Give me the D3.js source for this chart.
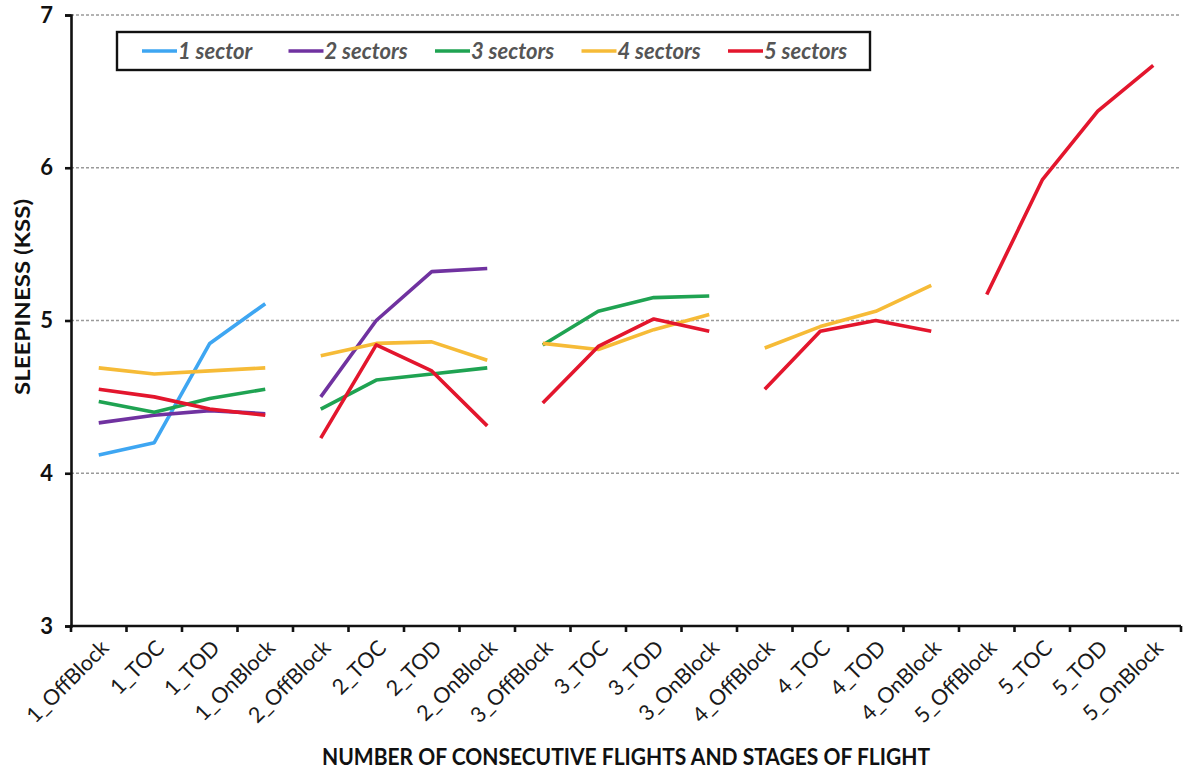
<!DOCTYPE html>
<html>
<head>
<meta charset="utf-8">
<script src="https://cdn.jsdelivr.net/npm/d3@7"></script>
<style>
  body { margin: 0; background: #fff; }
  svg { display: block; }
</style>
</head>
<body>
<div id="chart"></div>
<script>
// categories on the x axis: flight number x stage
const flights = ["1", "2", "3", "4", "5"];
const stages = ["OffBlock", "TOC", "TOD", "OnBlock"];
const categories = flights.flatMap(f => stages.map(s => f + "_" + s));

const seriesNames = ["1 sector", "2 sectors", "3 sectors", "4 sectors", "5 sectors"];
const seriesColors = ["#3ea6f2", "#7032a0", "#1fa352", "#f6bb37", "#e3162d"];

// KSS values, null where a crew did not fly that sector
const oneSector    = [4.12, 4.20, 4.85, 5.11, null, null, null, null, null, null, null, null, null, null, null, null, null, null, null, null];
const twoSectors   = [4.33, 4.38, 4.41, 4.39, 4.50, 5.00, 5.32, 5.34, null, null, null, null, null, null, null, null, null, null, null, null];
const threeSectors = [4.47, 4.40, 4.49, 4.55, 4.42, 4.61, 4.65, 4.69, 4.84, 5.06, 5.15, 5.16, null, null, null, null, null, null, null, null];
const fourSectors  = [4.69, 4.65, 4.67, 4.69, 4.77, 4.85, 4.86, 4.74, 4.85, 4.81, 4.94, 5.04, 4.82, 4.96, 5.06, 5.23, null, null, null, null];
const fiveSectors  = [4.55, 4.50, 4.42, 4.38, 4.23, 4.84, 4.67, 4.31, 4.46, 4.83, 5.01, 4.93, 4.55, 4.93, 5.00, 4.93, 5.17, 5.92, 6.37, 6.67];

const yTicks = [3, 4, 5, 6, 7];

const seriesValues = [oneSector, twoSectors, threeSectors, fourSectors, fiveSectors];

const width = 1187, height = 772;
const plot = {left: 71, right: 1181, top: 15, bottom: 626};
const font = "Lato, 'Open Sans', sans-serif";

const svg = d3.select("#chart").append("svg")
    .attr("width", width)
    .attr("height", height);

const x = d3.scaleBand()
    .domain(categories)
    .range([plot.left, plot.right]);

const y = d3.scaleLinear()
    .domain([3, 7])
    .range([plot.bottom, plot.top]);

// gridlines
svg.append("g")
    .selectAll("line")
    .data(yTicks.filter(t => t > 3))
    .join("line")
    .attr("x1", plot.left)
    .attr("x2", plot.right)
    .attr("y1", d => y(d))
    .attr("y2", d => y(d))
    .attr("stroke", "#9a9a9a")
    .attr("stroke-width", 1.3)
    .attr("stroke-dasharray", "3,2");

// lines, one path per flight so the groups stay apart
const line = d3.line()
    .x(d => x(d.cat) + x.bandwidth() / 2)
    .y(d => y(d.v));

seriesValues.forEach((vals, si) => {
    flights.forEach((f, fi) => {
        const pts = stages.map((s, k) => ({cat: categories[fi * 4 + k], v: vals[fi * 4 + k]}));
        if (pts.some(p => p.v == null)) return;
        svg.append("path")
            .datum(pts)
            .attr("d", line)
            .attr("fill", "none")
            .attr("stroke", seriesColors[si])
            .attr("stroke-width", 3.6)
            .attr("stroke-linejoin", "round");
    });
});

// y axis
const yAxis = svg.append("g")
    .attr("transform", `translate(${plot.left},0)`)
    .call(d3.axisLeft(y).tickValues(yTicks).tickFormat(d3.format("d")).tickSize(6).tickPadding(12));
yAxis.select(".domain").attr("stroke", "#111").attr("stroke-width", 2.6);
yAxis.selectAll(".tick line").attr("stroke", "#111").attr("stroke-width", 2.6);
yAxis.selectAll(".tick text")
    .attr("font-family", font)
    .attr("font-weight", "bold")
    .attr("font-size", 22)
    .attr("fill", "#111");

// x axis: ticks on band edges, labels at band centres
const xg = svg.append("g");
xg.append("line")
    .attr("x1", plot.left - 1).attr("x2", plot.right)
    .attr("y1", plot.bottom).attr("y2", plot.bottom)
    .attr("stroke", "#111").attr("stroke-width", 2.6);
xg.selectAll("line.tk")
    .data(categories.concat(["end"]))
    .join("line")
    .attr("class", "tk")
    .attr("x1", (d, i) => i < categories.length ? x(d) : plot.right)
    .attr("x2", (d, i) => i < categories.length ? x(d) : plot.right)
    .attr("y1", plot.bottom)
    .attr("y2", plot.bottom + 6)
    .attr("stroke", "#111").attr("stroke-width", 2.6);
xg.selectAll("text")
    .data(categories)
    .join("text")
    .attr("transform", d => `translate(${x(d) + x.bandwidth() / 2 + 6},${plot.bottom + 18}) rotate(-45)`)
    .attr("text-anchor", "end")
    .attr("dy", "0.35em")
    .attr("font-family", font)
    .attr("font-size", 21.5)
    .attr("fill", "#1a1a1a")
    .text(d => d);

// axis titles
svg.append("text")
    .attr("x", 626)
    .attr("y", 765)
    .attr("text-anchor", "middle")
    .attr("font-family", font)
    .attr("font-weight", "bold")
    .attr("font-size", 23)
    .attr("textLength", 608)
    .attr("lengthAdjust", "spacingAndGlyphs")
    .attr("fill", "#111")
    .text("NUMBER OF CONSECUTIVE FLIGHTS AND STAGES OF FLIGHT");

svg.append("text")
    .attr("transform", "translate(30,297) rotate(-90)")
    .attr("text-anchor", "middle")
    .attr("font-family", font)
    .attr("font-weight", "bold")
    .attr("font-size", 21)
    .attr("textLength", 196)
    .attr("lengthAdjust", "spacingAndGlyphs")
    .attr("fill", "#111")
    .text("SLEEPINESS (KSS)");

// legend
const legend = svg.append("g");
legend.append("rect")
    .attr("x", 117).attr("y", 32)
    .attr("width", 753).attr("height", 38)
    .attr("fill", "#fff")
    .attr("stroke", "#111")
    .attr("stroke-width", 2.4);

const item = legend.selectAll("g.item")
    .data(seriesNames)
    .join("g")
    .attr("class", "item")
    .attr("transform", (d, i) => `translate(${142 + i * 146.5},51)`);
item.append("line")
    .attr("x1", 0).attr("x2", 35)
    .attr("stroke", (d, i) => seriesColors[i])
    .attr("stroke-width", 3.6);
item.append("text")
    .attr("x", 36)
    .attr("dy", "0.35em")
    .attr("font-family", font)
    .attr("font-weight", "bold")
    .attr("font-style", "italic")
    .attr("font-size", 22)
    .attr("fill", "#555")
    .text(d => d);
</script>
</body>
</html>
